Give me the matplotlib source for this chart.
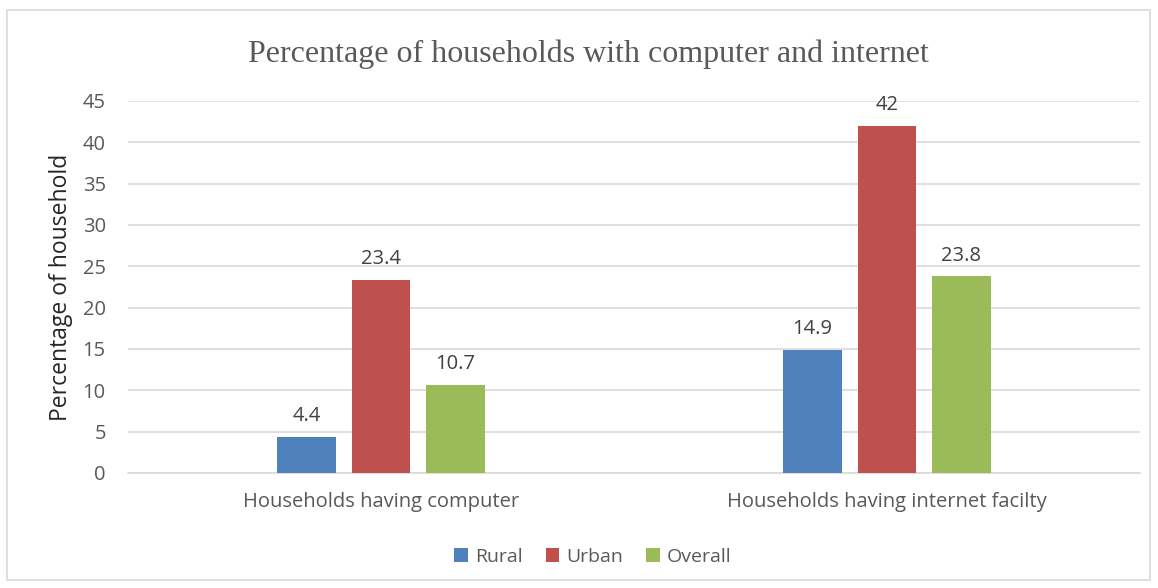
import numpy as np
import matplotlib.pyplot as plt
from matplotlib.patches import Rectangle

# Data
categories = ['Households having computer', 'Households having internet facilty']
series = ['Rural', 'Urban', 'Overall']
rural = [4.4, 14.9]
urban = [23.4, 42]
overall = [10.7, 23.8]
colors = ['#4f81bd', '#c0504d', '#9bbb59']

W, H = 1158, 588
fig = plt.figure(figsize=(W / 100, H / 100), dpi=100)
fig.patch.set_facecolor('white')

# outer chart border
fig.patches.append(Rectangle((7 / W, 1 - 580 / H), 1143 / W, 570 / H, transform=fig.transFigure,
                             fill=False, edgecolor='#d9d9d9', linewidth=1.2))

ax = fig.add_axes([128 / W, 1 - 473 / H, 1012 / W, 372 / H])

sans = 'Open Sans'
txt = '#595959'
x = np.arange(len(categories))
width = 0.1166
step = 0.147
for i, (name, vals) in enumerate(zip(series, [rural, urban, overall])):
    pos = x + (i - 1) * step
    bars = ax.bar(pos, vals, width, color=colors[i], label=name, zorder=3)
    for b, v in zip(bars, vals):
        ax.text(b.get_x() + b.get_width() / 2, v + 1.3, f'{v:g}', ha='center', va='bottom',
                fontsize=14.5, color='#404040', family=sans)

ax.set_xlim(-0.5, 1.5)
ax.set_ylim(0, 45)
ax.set_yticks(range(0, 46, 5))
ax.grid(axis='y', color='#d9d9d9', linewidth=1.2, zorder=0)
ax.set_axisbelow(True)
for s in ['top', 'right', 'left']:
    ax.spines[s].set_visible(False)
ax.spines['bottom'].set_color('#d9d9d9')
ax.spines['bottom'].set_linewidth(1.2)
ax.tick_params(length=0)
ax.tick_params(axis='y', pad=16, labelsize=14.5, labelcolor=txt)
ax.tick_params(axis='x', pad=14, labelsize=14.5, labelcolor=txt)
ax.set_xticks(x)
ax.set_xticklabels(categories, family=sans)
for lab in ax.get_yticklabels():
    lab.set_family(sans)

ax.set_ylabel('Percentage of household', fontsize=16.5, family=sans, color='#262626', labelpad=7)

fig.text(588 / W, 1 - 54 / H, 'Percentage of households with computer and internet', ha='center', va='center',
         fontsize=23, family='Liberation Serif', color=txt)

leg = fig.legend(loc='center', bbox_to_anchor=(0.512, 1 - 557 / H), ncol=3, frameon=False,
                 prop={'family': sans, 'size': 14}, handlelength=0.7, handleheight=0.7,
                 handletextpad=0.35, columnspacing=1.2)
for t in leg.get_texts():
    t.set_color(txt)

fig.savefig('out.png', dpi=100)
